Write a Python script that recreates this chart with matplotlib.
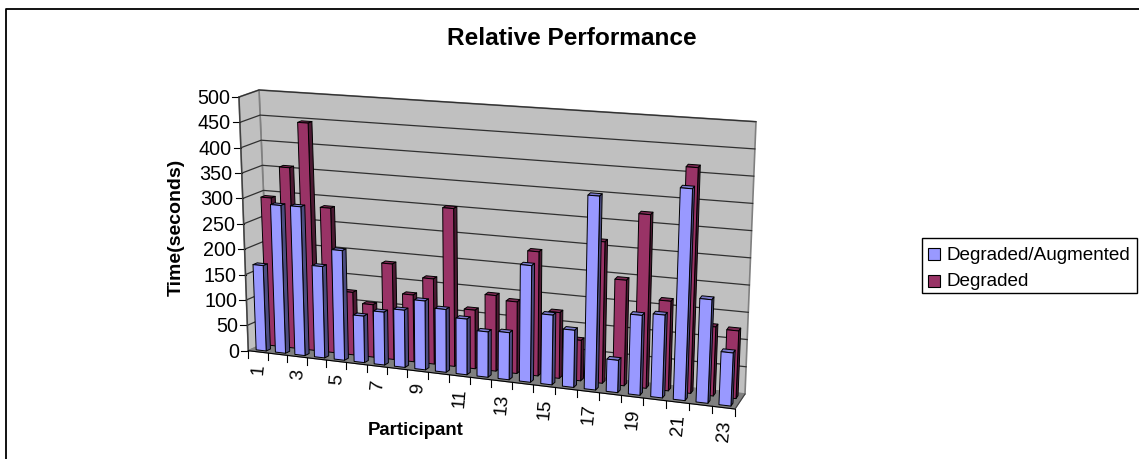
import matplotlib
matplotlib.use("Agg")
import matplotlib.pyplot as plt
from matplotlib.patches import Polygon, Rectangle

plt.rcParams['font.family'] = ['Liberation Sans', 'DejaVu Sans']

title = "Relative Performance"
participants = list(range(1, 24))
series_names = ["Degraded/Augmented", "Degraded"]
augmented = [168, 290, 291, 178, 213, 90, 102, 110, 132, 120, 106, 86, 89, 220,
             131, 107, 362, 60, 148, 153, 390, 190, 97]
degraded = [293, 356, 447, 283, 122, 102, 185, 129, 164, 303, 112, 144, 136, 235,
            124, 76, 265, 197, 323, 166, 417, 127, 124]
value_ticks = [0, 50, 100, 150, 200, 250, 300, 350, 400, 450, 500]
VMAX = 500
N = len(participants)

BLUE, BLUE_SIDE, BLUE_TOP = "#9999FF", "#4C4C80", "#7A7ACC"
PUR, PUR_SIDE, PUR_TOP = "#993366", "#4C1A33", "#7A2952"

# Pixel positions of the eight corners of the 3-D box: (right?, back?, top?)
C = {(0, 0, 0): (248.3, 351.7), (0, 1, 0): (270, 342), (1, 0, 0): (735, 410), (1, 1, 0): (745, 395),
     (0, 0, 1): (239, 98), (0, 1, 1): (259, 91), (1, 0, 1): (747, 136), (1, 1, 1): (756, 122.7)}
K = 0.10


def project(cat, depth, value):
    t = cat / N
    u = t / (1 + K * (1 - t))
    v = value / VMAX
    px = py = 0.0
    for (a, b, c), (x, y) in C.items():
        w = (u if a else 1 - u) * (depth if b else 1 - depth) * (v if c else 1 - v)
        px += w * x
        py += w * y
    return px, py


fig = plt.figure(figsize=(11.39, 4.6), dpi=100)
ax = fig.add_axes([0, 0, 1, 1])
ax.set_xlim(0, 1139)
ax.set_ylim(460, 0)
ax.axis("off")


def poly(pts, fc, ec="black", lw=0.7, z=1):
    ax.add_patch(Polygon([project(*p) for p in pts], closed=True, fc=fc, ec=ec, lw=lw, zorder=z, joinstyle="round"))


# outer frame
ax.plot([5.5, 5.5, 1139], [460, 9.5, 9.5], color="black", lw=1.3, zorder=0)

# walls and floor
poly([(0, 1, 0), (N, 1, 0), (N, 1, VMAX), (0, 1, VMAX)], "#C0C0C0", "#808080", 1.2)
poly([(0, 0, 0), (0, 1, 0), (0, 1, VMAX), (0, 0, VMAX)], "#C0C0C0", "#808080", 1.2)
poly([(0, 0, 0), (N, 0, 0), (N, 1, 0), (0, 1, 0)], "#808080", "#808080", 0.8)

# gridlines
for val in value_ticks:
    pts = [project(0, 0, val), project(0, 1, val), project(N, 1, val)]
    if val > 0:
        ax.plot(*zip(*pts), color="#303030", lw=0.9, zorder=2)
    x, y = project(0, 0, val)
    ax.plot([x - 7, x], [y, y], color="black", lw=0.8, zorder=2)
    ax.text(x - 9, y + 0.5, str(val), ha="right", va="center", fontsize=14.2, zorder=5)

# front-axis lines and ticks
ax.plot(*zip(project(0, 0, 0), project(0, 0, VMAX)), color="#404040", lw=1, zorder=2)
ax.plot(*zip(project(0, 0, 0), project(N, 0, 0)), color="black", lw=0.8, zorder=2)
ax.plot(*zip(project(N, 0, 0), project(N, 1, 0)), color="#404040", lw=0.8, zorder=2)
for i in range(N + 1):
    x, y = project(i, 0, 0)
    ax.plot([x, x], [y, y + 7], color="black", lw=0.8, zorder=2)
for i, p in enumerate(participants):
    if i % 2 == 0:
        x, y = project(i + 0.5, 0, 0)
        ax.text(x + 1, y + 11, str(p), rotation=85, ha="center", va="top", fontsize=13.5, zorder=5)


def bar(cat, d0, d1, val, face, side, top, z):
    hw = 0.26
    l, r = cat + 0.5 - hw, cat + 0.5 + hw
    poly([(l, d0, val), (r, d0, val), (r, d1, val), (l, d1, val)], top, z=z)
    poly([(r, d0, 0), (r, d1, 0), (r, d1, val), (r, d0, val)], side, z=z)
    poly([(l, d0, 0), (r, d0, 0), (r, d0, val), (l, d0, val)], face, z=z)


for i, val in enumerate(degraded):
    bar(i, 0.65, 0.85, val, PUR, PUR_SIDE, PUR_TOP, 3)
for i, val in enumerate(augmented):
    bar(i, 0.15, 0.35, val, BLUE, BLUE_SIDE, BLUE_TOP, 4)

# titles
ax.text(572, 38.5, title, ha="center", va="center", fontsize=17.6, fontweight="bold")
ax.text(176, 227, "Time(seconds)", rotation=90, ha="center", va="center", fontsize=14, fontweight="bold")
ax.text(416, 431, "Participant", ha="center", va="center", fontsize=13.4, fontweight="bold")

# legend
ax.add_patch(Rectangle((921.7, 239), 215, 55, fc="white", ec="black", lw=1))
for yy, col, name in zip((249, 276), (BLUE, PUR), series_names):
    ax.add_patch(Rectangle((927.7, yy), 12, 12, fc=col, ec="black", lw=0.8))
    ax.text(947, yy + 6, name, ha="left", va="center", fontsize=13.6)

fig.savefig("out.png", dpi=100)
